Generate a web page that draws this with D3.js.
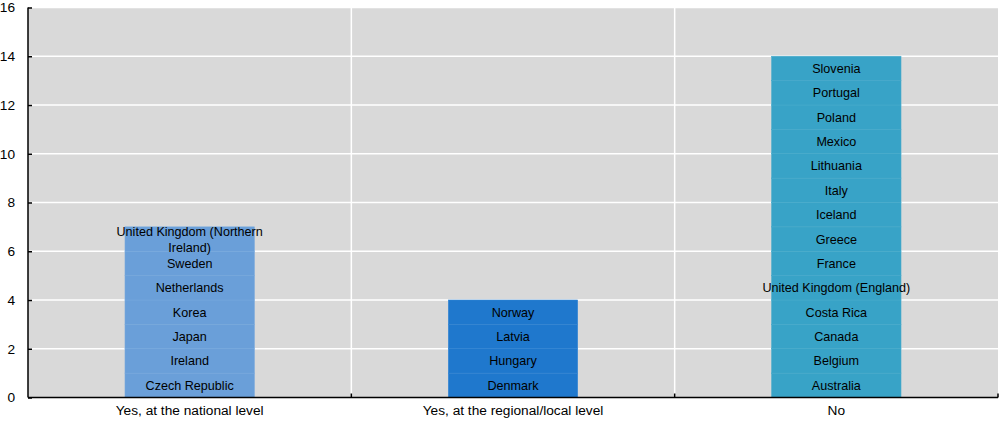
<!DOCTYPE html>
<html><head><meta charset="utf-8">
<script src="https://cdn.jsdelivr.net/npm/d3@7"></script>
<style>
body{margin:0;background:#fff;}
text{font-family:"Liberation Sans",Arial,sans-serif;}
</style></head>
<body><svg id="c" width="1000" height="421"></svg>
<script>
const categories = ["Yes, at the national level","Yes, at the regional/local level","No"];
const nationalCountries = ["Czech Republic","Ireland","Japan","Korea","Netherlands","Sweden","United Kingdom (Northern Ireland)"];
const regionalCountries = ["Denmark","Hungary","Latvia","Norway"];
const noCountries = ["Australia","Belgium","Canada","Costa Rica","United Kingdom (England)","France","Greece","Iceland","Italy","Lithuania","Mexico","Poland","Portugal","Slovenia"];
const counts = [7,4,14];
const yTicks = [0,2,4,6,8,10,12,14,16];
const colors = ["#6a9fd9","#1f78cd","#38a3c7"];
const strokeColors = ["#77a8dd","#3485d3","#47abcb"];

const groups = [nationalCountries, regionalCountries, noCountries];
const svg = d3.select("#c");
const m = {l:28, r:2, t:7.5, b:23.5};
const W = 1000, H = 421;
const x = d3.scaleBand().domain(categories).range([m.l, W-m.r]).paddingInner(0.6).paddingOuter(0.3);
const y = d3.scaleLinear().domain([0,16]).range([H-m.b, m.t]);

svg.append("rect").attr("x",m.l).attr("y",y(16)).attr("width",W-m.r-m.l).attr("height",y(0)-y(16)).attr("fill","#d9d9d9");

svg.selectAll(".hg").data(yTicks.filter(d=>d>0)).enter().append("line")
  .attr("x1",m.l).attr("x2",W-m.r).attr("y1",d=>y(d)).attr("y2",d=>y(d))
  .attr("stroke","#fff").attr("stroke-width",1.5);
const step = x.step();
const bounds = categories.slice(1).map(c => x(c) - x.paddingInner()*step/2);
svg.selectAll(".vg").data(bounds).enter().append("line")
  .attr("x1",d=>d).attr("x2",d=>d).attr("y1",y(16)).attr("y2",y(0))
  .attr("stroke","#fff").attr("stroke-width",1.5);

groups.forEach((list,gi)=>{
  const cat = categories[gi];
  const g = svg.append("g");
  g.selectAll("rect").data(list).enter().append("rect")
    .attr("x",x(cat)).attr("width",x.bandwidth())
    .attr("y",(d,i)=>y(i+1)).attr("height",(d,i)=>y(i)-y(i+1))
    .attr("fill",colors[gi]).attr("stroke",strokeColors[gi]).attr("stroke-width",0.6);
  list.forEach((name,i)=>{
    const cx = x(cat)+x.bandwidth()/2;
    const cy = (y(i)+y(i+1))/2;
    const t = g.append("text").attr("x",cx).attr("text-anchor","middle")
      .attr("font-size",12.6).attr("fill","#000");
    if(name === "United Kingdom (Northern Ireland)"){
      t.append("tspan").attr("x",cx).attr("y",cy-3.5).text("United Kingdom (Northern");
      t.append("tspan").attr("x",cx).attr("y",cy+12.5).text("Ireland)");
    } else {
      t.attr("y",cy+4.5).text(name);
    }
  });
});

const yAxis = d3.axisLeft(y).tickValues(yTicks).tickSize(-4).tickPadding(13);
const ya = svg.append("g").attr("transform",`translate(${m.l},0)`).call(yAxis);
ya.select(".domain").attr("stroke","#000").attr("stroke-width",1.5).attr("d",`M0,${y(16)}H0V${y(0)}`);
ya.selectAll(".tick line").attr("stroke","#000").attr("stroke-width",1.5);
ya.selectAll(".tick text").attr("font-size",13.7).attr("fill","#000").attr("font-family","Liberation Sans, Arial, sans-serif");

svg.append("line").attr("x1",m.l).attr("x2",W-m.r).attr("y1",y(0)).attr("y2",y(0)).attr("stroke","#000").attr("stroke-width",1.5);
const xt = bounds.concat([W-m.r]);
svg.selectAll(".xt").data(xt).enter().append("line")
  .attr("x1",d=>d).attr("x2",d=>d).attr("y1",y(0)).attr("y2",y(0)-4)
  .attr("stroke","#000").attr("stroke-width",1.5);
svg.selectAll(".xl").data(categories).enter().append("text")
  .attr("x",d=>x(d)+x.bandwidth()/2).attr("y",H-6).attr("text-anchor","middle")
  .attr("font-size",13.7).attr("fill","#000").text(d=>d);
</script></body></html>
